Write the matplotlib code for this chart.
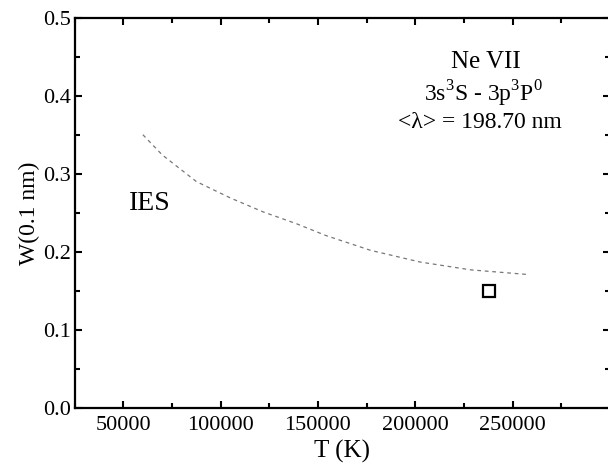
import matplotlib
matplotlib.use('Agg')
import matplotlib.pyplot as plt
from matplotlib.ticker import MultipleLocator

plt.rcParams['font.family'] = ['Liberation Serif', 'DejaVu Serif']
plt.rcParams['mathtext.fontset'] = 'custom'
plt.rcParams['mathtext.rm'] = 'Liberation Serif'

# IES curve (dashed)
ies_T = [60000, 70000, 87500, 105000, 122000, 139000, 154000, 177000, 202500, 228500, 258000]
ies_W = [0.350, 0.324, 0.290, 0.269, 0.251, 0.236, 0.221, 0.202, 0.187, 0.177, 0.171]

# experimental point
exp_T = [238000]
exp_W = [0.150]

fig = plt.figure(figsize=(6.08, 4.74), dpi=100)
ax = fig.add_axes([0.123, 0.139, 0.880, 0.824])

ax.plot(ies_T, ies_W, color='#777777', lw=0.9, linestyle=(0, (3, 3)))
ax.plot(exp_T, exp_W, 's', ms=9, mfc='white', mec='black', mew=1.6)

ax.set_xlim(25000, 300000)
ax.set_ylim(0.0, 0.5)
ax.xaxis.set_minor_locator(MultipleLocator(25000))
ax.yaxis.set_minor_locator(MultipleLocator(0.05))
ax.set_xticks([50000, 100000, 150000, 200000, 250000])
ax.set_xticklabels(['50000', '100000', '150000', '200000', '250000'])
ax.set_yticks([0.0, 0.1, 0.2, 0.3, 0.4, 0.5])
ax.set_yticklabels(['0.0', '0.1', '0.2', '0.3', '0.4', '0.5'])

ax.tick_params(which='both', direction='in', top=True, right=True, width=1.5, labelsize=16)
ax.tick_params(axis='x', pad=6)
ax.tick_params(axis='y', pad=3)
ax.tick_params(which='major', length=5)
ax.tick_params(which='minor', length=3.5)
for s in ax.spines.values():
    s.set_linewidth(1.6)

ax.set_xlabel('T (K)', fontsize=18, labelpad=3)
ax.set_ylabel('W(0.1 nm)', fontsize=17, labelpad=2)

ax.text(63600, 0.254, 'IES', fontsize=20, ha='center', va='baseline')
ax.text(236500, 0.436, 'Ne VII', fontsize=18, ha='center', va='baseline')
ax.text(235000, 0.392, '3s$^3$S - 3p$^3$P$^0$', fontsize=17, ha='center', va='baseline')
ax.text(233000, 0.358, '<λ> = 198.70 nm', fontsize=17, ha='center', va='baseline')

fig.savefig('out.png', dpi=100)
